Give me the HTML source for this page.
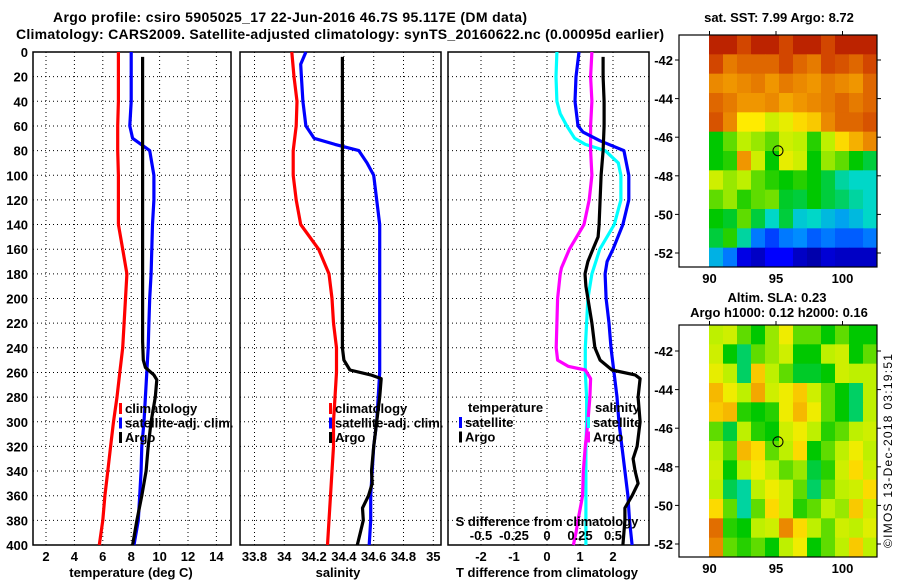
<!DOCTYPE html>
<html><head><meta charset="utf-8">
<style>
html,body{margin:0;padding:0;background:#fff;}
svg{display:block;font-family:"Liberation Sans",sans-serif;font-weight:bold;}
</style></head>
<body>
<svg id="c" width="900" height="580" viewBox="0 0 900 580">
<text x="290" y="22" font-size="14" text-anchor="middle" textLength="474">Argo profile: csiro 5905025_17 22-Jun-2016 46.7S 95.117E (DM data)</text>
<text x="340" y="39" font-size="14" text-anchor="middle" textLength="648">Climatology: CARS2009. Satellite-adjusted climatology: synTS_20160622.nc (0.00095d earlier)</text>
<text x="779" y="22" font-size="13" text-anchor="middle">sat. SST: 7.99 Argo: 8.72</text>
<text x="777" y="302" font-size="13" text-anchor="middle">Altim. SLA: 0.23</text>
<text x="779" y="317" font-size="13" text-anchor="middle">Argo h1000: 0.12 h2000: 0.16</text>
<text transform="translate(892,548) rotate(-90)" font-size="12" font-weight="normal" textLength="194">©IMOS 13-Dec-2018 03:19:51</text>
</svg>
<script>
// ---------- data ----------
const depthTicks=[0,20,40,60,80,100,120,140,160,180,200,220,240,260,280,300,320,340,360,380,400];
const tTicks=[2,4,6,8,10,12,14];
const sTicks=[33.8,34,34.2,34.4,34.6,34.8,35];
const dTTicks=[-2,-1,0,1,2];
const dSTicks=[-0.5,-0.25,0,0.25,0.5];
const dSTickLabels=["-0.5","-0.25","0","0.25","0.5"];

const climDepth=[0,20,40,60,80,100,120,140,160,180,200,220,240,260,280,300,320,340,360,380,400];
const tClim=[7.1,7.1,7.1,7.05,7.05,7.1,7.1,7.1,7.4,7.7,7.6,7.5,7.4,7.2,7.0,6.75,6.55,6.35,6.15,6.0,5.75];
const tSatDepth=[0,20,40,60,70,80,100,120,140,160,180,200,220,240,260,280,300,320,340,360,380,400];
const tSat=[8.0,8.0,8.0,7.9,8.1,9.3,9.6,9.6,9.5,9.45,9.4,9.3,9.25,9.2,9.1,9.0,8.9,8.75,8.7,8.6,8.5,8.2];
const tArgoDepth=[4,40,80,120,160,200,235,250,256,262,266,280,300,320,340,360,380,400];
const tArgo=[8.8,8.8,8.8,8.8,8.8,8.8,8.8,8.85,9.0,9.6,9.8,9.7,9.4,9.2,9.05,8.75,8.4,8.1];

const sClim=[34.05,34.065,34.085,34.08,34.06,34.06,34.08,34.11,34.23,34.3,34.32,34.33,34.35,34.35,34.34,34.33,34.33,34.32,34.31,34.3,34.29];
const sSatDepth=[0,10,20,40,60,70,75,80,90,100,120,140,160,200,260,280,300,320,340,360,380,400];
const sSat=[34.145,34.11,34.115,34.125,34.145,34.2,34.34,34.5,34.555,34.6,34.62,34.64,34.64,34.64,34.64,34.63,34.62,34.6,34.59,34.58,34.58,34.57];
const sArgoDepth=[4,40,80,120,160,200,240,250,258,262,265,280,300,320,340,350,360,370,380,390,400];
const sArgo=[34.39,34.39,34.39,34.39,34.39,34.39,34.39,34.4,34.44,34.58,34.65,34.64,34.62,34.6,34.585,34.59,34.565,34.525,34.53,34.51,34.49];

const dDepth=[0,20,40,50,60,70,75,80,90,100,120,140,160,180,200,220,240,260,280,300,320,340,360,380,400];
const dSSat=[0.075,0.068,0.075,0.1,0.15,0.21,0.29,0.44,0.54,0.56,0.56,0.51,0.4,0.34,0.31,0.3,0.29,0.29,0.3,0.3,0.295,0.295,0.295,0.295,0.295];
const dSArgoDepth=[0,20,40,60,80,100,120,140,160,175,180,200,220,240,250,255,258,265,280,300,320,340,360,380,390,400];
const dSArgo=[0.34,0.33,0.34,0.33,0.33,0.34,0.32,0.28,0.17,0.11,0.1,0.08,0.075,0.07,0.08,0.16,0.29,0.33,0.325,0.31,0.29,0.275,0.27,0.235,0.22,0.2];
const dTSatDepth=[0,20,40,60,65,72,80,100,120,140,160,170,180,200,220,240,260,280,300,320,340,360,380,400];
const dTSat=[0.97,0.88,0.85,0.94,1.09,1.6,2.33,2.48,2.48,2.3,2.0,1.82,1.76,1.79,1.88,1.94,2.03,2.12,2.18,2.27,2.36,2.45,2.5,2.58];
const dTArgoDepth=[4,20,40,60,80,100,120,140,150,160,170,180,190,200,220,240,250,258,262,265,280,300,320,330,340,350,360,370,380,390,400];
const dTArgo=[1.7,1.7,1.73,1.73,1.7,1.64,1.61,1.58,1.55,1.39,1.24,1.15,1.18,1.24,1.36,1.45,1.61,1.97,2.67,2.82,2.76,2.82,2.73,2.61,2.67,2.76,2.58,2.36,2.36,2.33,2.3];

const lonTicks=[90,95,100];
const latTicks=[-42,-44,-46,-48,-50,-52];
const sstMap=[
[.95,.95,.9,.95,.95,.9,.95,.95,.9,.95,.95,.95],
[.9,.82,.85,.85,.85,.9,.85,.82,.9,.88,.85,.9],
[.8,.78,.8,.82,.78,.82,.8,.78,.82,.8,.78,.85],
[.85,.82,.78,.78,.8,.76,.78,.8,.82,.85,.82,.85],
[.88,.8,.68,.68,.62,.65,.7,.72,.8,.85,.85,.88],
[.5,.55,.6,.58,.55,.62,.6,.52,.6,.7,.75,.8],
[.5,.52,.78,.62,.5,.65,.62,.5,.58,.55,.5,.47],
[.62,.58,.6,.55,.52,.5,.52,.5,.47,.42,.4,.4],
[.55,.58,.52,.55,.56,.48,.47,.5,.47,.45,.42,.4],
[.5,.48,.55,.47,.4,.47,.38,.4,.36,.33,.36,.4],
[.47,.52,.42,.28,.22,.28,.3,.25,.28,.25,.25,.28],
[.35,.28,.12,.08,.15,.15,.08,.05,.1,.08,.08,.08]];
const slaMap=[
[.6,.62,.55,.5,.58,.66,.55,.55,.5,.55,.5,.5],
[.62,.5,.45,.55,.58,.62,.5,.5,.6,.62,.5,.55],
[.65,.6,.45,.72,.6,.55,.48,.48,.5,.62,.6,.6],
[.74,.66,.6,.76,.62,.66,.72,.62,.55,.5,.45,.6],
[.72,.74,.52,.5,.52,.66,.74,.66,.55,.5,.45,.6],
[.55,.47,.6,.52,.5,.62,.66,.6,.52,.55,.6,.62],
[.6,.55,.74,.7,.55,.6,.7,.5,.55,.6,.66,.6],
[.62,.5,.6,.66,.6,.55,.58,.47,.52,.62,.7,.62],
[.6,.46,.42,.6,.66,.62,.55,.45,.55,.6,.62,.7],
[.7,.55,.42,.55,.7,.62,.52,.55,.6,.58,.72,.62],
[.84,.52,.5,.6,.62,.8,.7,.6,.55,.62,.6,.64],
[.8,.55,.52,.55,.5,.6,.66,.5,.55,.6,.72,.6]];
const argoLon=95.15, argoLat=-46.7;

// ---------- drawing ----------
const svg=document.getElementById('c');
const NS='http://www.w3.org/2000/svg';
function mk(tag,attrs,parent){const e=document.createElementNS(NS,tag);for(const k in attrs)e.setAttribute(k,attrs[k]);(parent||svg).appendChild(e);return e;}
const Y=d=>52+d*1.2325;
const XT=t=>46+(t-2)*14.2;
const XS=s=>254.5+(s-33.8)*149;
const XdT=t=>547+t*33;
const XdS=s=>547+s*132;

function panel(x0,x1,xt,name){
  const g=mk('g',{});
  
  
  depthTicks.forEach(d=>{if(d>0&&d<400){const l=mk('line',{x1:x0,x2:x1,y1:Y(d),y2:Y(d),stroke:'#000','stroke-width':1,'stroke-dasharray':'1,3'},g);}});
  xt.forEach(x=>{const l=mk('line',{x1:x,x2:x,y1:52,y2:545,stroke:'#000','stroke-width':1,'stroke-dasharray':'1,3'},g);});
  const r=mk('rect',{x:x0,y:52,width:x1-x0,height:493,fill:'none',stroke:'#000','stroke-width':1.5},g);
  
  return g;
}
function line(g,xs,ds,fx,col,name){
  const p=xs.map((v,i)=>fx(v).toFixed(1)+','+Y(ds[i]).toFixed(1)).join(' ');
  const e=mk('polyline',{points:p,fill:'none',stroke:col,'stroke-width':3.2,'stroke-linejoin':'round'},g);
  
  
}
function txt(s,x,y,opts,g){const t=mk('text',Object.assign({x:x,y:y,'font-size':13},opts||{}),g);t.textContent=s;return t;}

// panel 1
const g1=panel(33,231,tTicks.map(XT),'temperature-panel');
depthTicks.forEach(d=>{const t=txt(String(d),28,Y(d)+5,{'text-anchor':'end'});});
tTicks.forEach(v=>{const t=txt(String(v),XT(v),561,{'text-anchor':'middle'});});
let at=txt('temperature (deg C)',131,577,{'text-anchor':'middle'});
line(g1,tClim,climDepth,XT,'#ff0000','temp-climatology-line');
line(g1,tSat,tSatDepth,XT,'#0000ff','temp-satellite-line');
line(g1,tArgo,tArgoDepth,XT,'#000','temp-argo-line');

// panel 2
const g2=panel(240,441,sTicks.map(XS),'salinity-panel');
sTicks.forEach(v=>{const t=txt(String(v),XS(v),561,{'text-anchor':'middle'});});
at=txt('salinity',338,577,{'text-anchor':'middle'});
line(g2,sClim,climDepth,XS,'#ff0000','sal-climatology-line');
line(g2,sSat,sSatDepth,XS,'#0000ff','sal-satellite-line');
line(g2,sArgo,sArgoDepth,XS,'#000','sal-argo-line');

// panel 3
const g3=panel(448,649,dTTicks.map(XdT),'difference-panel');
dTTicks.forEach(v=>{const t=txt(String(v),XdT(v),561,{'text-anchor':'middle'});});
at=txt('T difference from climatology',547,577,{'text-anchor':'middle'});
line(g3,dSSat,dDepth,XdS,'#00ffff','ds-satellite-line');
line(g3,dSArgo,dSArgoDepth,XdS,'#ff00ff','ds-argo-line');
line(g3,dTSat,dTSatDepth,XdT,'#0000ff','dt-satellite-line');
line(g3,dTArgo,dTArgoDepth,XdT,'#000','dt-argo-line');
at=txt('S difference from climatology',547,526,{'text-anchor':'middle'});
dSTicks.forEach((v,i)=>{const t=txt(dSTickLabels[i],XdS(v),540,{'text-anchor':'middle'});});

// legends
function legend(x,y,items,name){
  const g=mk('g',{});
  
  
  items.forEach((it,i)=>{
    const yy=y+i*14.5;
    const b=mk('rect',{x:x,y:yy-10,width:3,height:11,fill:it[1]},g);
    
    const t=txt(it[0],x+6,yy,{},g);
    
  });
}
legend(119,413,[['climatology','#ff0000'],['satellite-adj. clim.','#0000ff'],['Argo','#000']],'temp-legend');
legend(329,413,[['climatology','#ff0000'],['satellite-adj. clim.','#0000ff'],['Argo','#000']],'sal-legend');
at=txt('temperature',468,412,{});
legend(459,427,[['satellite','#0000ff'],['Argo','#000']],'dt-legend');
at=txt('salinity',595,412,{});
legend(587,427,[['satellite','#00ffff'],['Argo','#ff00ff']],'ds-legend');

// colormap
const cmStops=[[0,0,0,130],[0.15,0,0,255],[0.3,0,140,255],[0.4,0,215,200],[0.5,0,200,0],[0.6,190,240,0],[0.68,255,235,0],[0.78,240,150,0],[0.9,210,70,0],[1,165,0,0]];
function cmap(v){
  v=Math.max(0,Math.min(1,v));
  for(let i=1;i<cmStops.length;i++){
    const a=cmStops[i-1],b=cmStops[i];
    if(v<=b[0]){const f=(v-a[0])/(b[0]-a[0]);
      return 'rgb('+[1,2,3].map(k=>Math.round(a[k]+(b[k]-a[k])*f)).join(',')+')';}
  }
  return 'rgb(165,0,0)';
}
function map(top,latY,vals,name){
  const g=mk('g',{});
  
  
  const lonX=l=>776+(l-95)*13.3;
  const x0=709,x1=877,bot=top+232;
  const rows=vals.length, cols=vals[0].length;
  const cw=(x1-x0)/cols, ch=(bot-top)/rows;
  vals.forEach((row,i)=>row.forEach((v,j)=>{
    const c=mk('rect',{x:(x0+j*cw).toFixed(2),y:(top+i*ch).toFixed(2),width:(cw+0.5).toFixed(2),height:(ch+0.5).toFixed(2),fill:cmap(v)},g);
    
    
  }));
  const f=mk('rect',{x:679,y:top,width:198,height:232,fill:'none',stroke:'#000','stroke-width':1.2},g);
  
  lonTicks.forEach(l=>{
    mk('line',{x1:lonX(l),x2:lonX(l),y1:top-4,y2:top,stroke:'#000'},g);
    const t=txt(String(l),lonX(l),bot+16,{'text-anchor':'middle'},g);
    
  });
  latTicks.forEach(la=>{
    const y=latY(la);
    mk('line',{x1:877,x2:881,y1:y,y2:y,stroke:'#000'},g);
    mk('line',{x1:675,x2:679,y1:y,y2:y,stroke:'#000'},g);
    const t=txt(String(la),673,y+5,{'text-anchor':'end'},g);
    
  });
  const c=mk('circle',{cx:lonX(argoLon),cy:latY(argoLat),r:5,fill:'none',stroke:'#000','stroke-width':1},g);
  
}
map(35,la=>60+(-42-la)*19.3,sstMap,'sst-map');
map(325,la=>351+(-42-la)*19.3,slaMap,'sla-map');
</script>
</body></html>
